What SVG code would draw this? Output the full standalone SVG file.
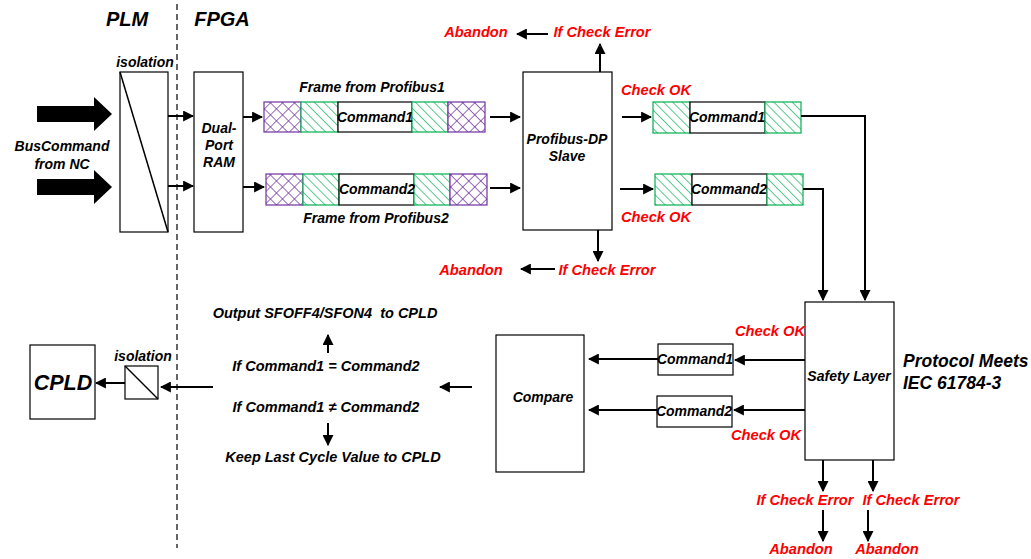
<svg xmlns="http://www.w3.org/2000/svg" width="1031" height="559" viewBox="0 0 1031 559">
<style>
text{font-family:"Liberation Sans",Arial,sans-serif;font-weight:bold;font-style:italic;fill:#000}
.t{font-size:14px}
.d{font-size:14.5px;white-space:pre}
.h{font-size:20px}
.r{fill:#ff0000;font-size:14.7px}
.m{text-anchor:middle}
.box{fill:#fff;stroke:#000;stroke-width:1.2}
.ln{fill:none;stroke:#000;stroke-width:2}
.pu{fill:url(#cross);stroke:#7030a0;stroke-width:1.2}
.gr{fill:url(#diag);stroke:#00b050;stroke-width:1.2}
</style>
<defs>
<marker id="ah" viewBox="0 0 10 10" refX="9" refY="5" markerWidth="5.5" markerHeight="5.5" orient="auto" markerUnits="strokeWidth">
<path d="M0,0 L10,5 L0,10 z" fill="#000"/>
</marker>
<pattern id="cross" patternUnits="userSpaceOnUse" width="8.5" height="8.5" patternTransform="rotate(45)">
<rect width="8.5" height="8.5" fill="#fff"/>
<path d="M0,0 V8.5 M0,0 H8.5" stroke="#7030a0" stroke-width="1.4"/>
</pattern>
<pattern id="diag" patternUnits="userSpaceOnUse" width="6.5" height="6.5" patternTransform="rotate(-45)">
<rect width="6.5" height="6.5" fill="#fff"/>
<path d="M0,0 V6.5" stroke="#00b050" stroke-width="1.3"/>
</pattern>
</defs>

<g id="dividers">
<line x1="177" y1="4" x2="177" y2="548" stroke="#000" stroke-width="1.2" stroke-dasharray="6,4"/>
<text class="h m" x="127" y="26">PLM</text>
<text class="h m" x="222" y="26">FPGA</text>
</g>

<g id="bus-input">
<path d="M37,106 H94 V97 L112,114 L94,131 V122 H37 z" fill="#000"/>
<path d="M37,179 H94 V170 L112,187 L94,204 V195 H37 z" fill="#000"/>
<text class="t m" x="62" y="151">BusCommand</text>
<text class="t m" x="62" y="169">from NC</text>
</g>

<g id="isolation1">
<rect class="box" x="120" y="72" width="48" height="160"/>
<line x1="120" y1="72" x2="168" y2="232" stroke="#000" stroke-width="1.5"/>
<text class="t m" x="145" y="67">isolation</text>
</g>

<g id="dpram">
<rect class="box" x="194" y="72" width="49" height="160"/>
<text class="t m" x="219" y="133">Dual-</text>
<text class="t m" x="219" y="150">Port</text>
<text class="t m" x="219" y="167">RAM</text>
</g>

<g id="frame1">
<rect class="pu" x="264" y="102" width="37" height="30"/>
<rect class="gr" x="301" y="102" width="37" height="30"/>
<rect class="box" x="338" y="102" width="74" height="30"/>
<rect class="gr" x="412" y="102" width="36" height="30"/>
<rect class="pu" x="448" y="102" width="37" height="30"/>
<text class="t m" x="375" y="122">Command1</text>
<text class="t m" x="372" y="92">Frame from Profibus1</text>
</g>

<g id="frame2">
<rect class="pu" x="266" y="174" width="37" height="31"/>
<rect class="gr" x="303" y="174" width="36" height="31"/>
<rect class="box" x="339" y="174" width="75" height="31"/>
<rect class="gr" x="414" y="174" width="36" height="31"/>
<rect class="pu" x="450" y="174" width="37" height="31"/>
<text class="t m" x="377" y="194">Command2</text>
<text class="t m" x="376" y="223">Frame from Profibus2</text>
</g>

<g id="profibus-slave">
<rect class="box" x="523" y="72" width="89" height="158"/>
<text class="t m" x="567" y="144">Profibus-DP</text>
<text class="t m" x="567" y="161">Slave</text>
</g>

<g id="cmd1-ok">
<rect class="gr" x="653" y="102" width="37" height="31"/>
<rect class="box" x="690" y="102" width="75" height="31"/>
<rect class="gr" x="765" y="102" width="36" height="31"/>
<text class="t m" x="727" y="122">Command1</text>
</g>

<g id="cmd2-ok">
<rect class="gr" x="655" y="174" width="37" height="31"/>
<rect class="box" x="692" y="174" width="75" height="31"/>
<rect class="gr" x="767" y="174" width="36" height="31"/>
<text class="t m" x="729" y="194">Command2</text>
</g>

<g id="safety-layer">
<rect class="box" x="805" y="302" width="89" height="158"/>
<text class="t m" x="849" y="381">Safety Layer</text>
<text x="903" y="367" style="font-size:17.5px">Protocol Meets</text>
<text x="903" y="389" style="font-size:17.5px">IEC 61784-3</text>
</g>

<g id="cmd1-small">
<rect class="box" x="658" y="344" width="75" height="31"/>
<text class="t m" x="695" y="364">Command1</text>
</g>
<g id="cmd2-small">
<rect class="box" x="657" y="396" width="75" height="31"/>
<text class="t m" x="694" y="416">Command2</text>
</g>

<g id="compare">
<rect class="box" x="496" y="335" width="88" height="137"/>
<text class="t m" x="543" y="402">Compare</text>
</g>

<g id="decision">
<text class="d m" x="325" y="318" xml:space="preserve">Output SFOFF4/SFON4  to CPLD</text>
<text class="d m" x="326" y="371">If Command1 = Command2</text>
<text class="d m" x="326" y="412">If Command1 ≠ Command2</text>
<text class="d m" x="333" y="462">Keep Last Cycle Value to CPLD</text>
</g>

<g id="isolation2">
<rect class="box" x="125" y="366" width="33" height="33"/>
<line x1="125" y1="366" x2="158" y2="399" stroke="#000" stroke-width="1.5"/>
<text class="t m" x="143" y="361">isolation</text>
</g>

<g id="cpld">
<rect class="box" x="30" y="345" width="65" height="74"/>
<text class="m" x="63" y="390" style="font-size:21.5px">CPLD</text>
</g>

<g id="labels-red">
<text class="r m" x="476" y="37">Abandon</text>
<text class="r m" x="602" y="37">If Check Error</text>
<text class="r m" x="471" y="275">Abandon</text>
<text class="r m" x="607" y="275">If Check Error</text>
<text class="r m" x="656" y="95">Check OK</text>
<text class="r m" x="656" y="222">Check OK</text>
<text class="r m" x="770" y="336">Check OK</text>
<text class="r m" x="766" y="440">Check OK</text>
<text class="r m" x="805" y="505">If Check Error</text>
<text class="r m" x="911" y="505">If Check Error</text>
<text class="r m" x="801" y="554">Abandon</text>
<text class="r m" x="887" y="554">Abandon</text>
</g>

<g id="connectors">
<line class="ln" x1="168" y1="116" x2="193" y2="116" marker-end="url(#ah)"/>
<line class="ln" x1="168" y1="186" x2="193" y2="186" marker-end="url(#ah)"/>
<line class="ln" x1="243" y1="117" x2="262" y2="117" marker-end="url(#ah)"/>
<line class="ln" x1="243" y1="187" x2="264" y2="187" marker-end="url(#ah)"/>
<line class="ln" x1="490" y1="117" x2="520" y2="117" marker-end="url(#ah)"/>
<line class="ln" x1="490" y1="188" x2="520" y2="188" marker-end="url(#ah)"/>
<line class="ln" x1="600" y1="72" x2="600" y2="44" marker-end="url(#ah)"/>
<line class="ln" x1="548" y1="34" x2="517" y2="34" marker-end="url(#ah)"/>
<line class="ln" x1="598" y1="230" x2="598" y2="261" marker-end="url(#ah)"/>
<line class="ln" x1="555" y1="269" x2="521" y2="269" marker-end="url(#ah)"/>
<line class="ln" x1="622" y1="117" x2="651" y2="117" marker-end="url(#ah)"/>
<line class="ln" x1="620" y1="189" x2="653" y2="189" marker-end="url(#ah)"/>
<polyline class="ln" points="801,116 865,116 865,300" marker-end="url(#ah)"/>
<polyline class="ln" points="803,189 823,189 823,300" marker-end="url(#ah)"/>
<line class="ln" x1="805" y1="360" x2="735" y2="360" marker-end="url(#ah)"/>
<line class="ln" x1="658" y1="359" x2="589" y2="359" marker-end="url(#ah)"/>
<line class="ln" x1="805" y1="410" x2="734" y2="410" marker-end="url(#ah)"/>
<line class="ln" x1="657" y1="410" x2="589" y2="410" marker-end="url(#ah)"/>
<line class="ln" x1="472" y1="387" x2="440" y2="387" marker-end="url(#ah)"/>
<line class="ln" x1="328" y1="353" x2="328" y2="335" marker-end="url(#ah)"/>
<line class="ln" x1="328" y1="423" x2="328" y2="445" marker-end="url(#ah)"/>
<line class="ln" x1="213" y1="387" x2="161" y2="387" marker-end="url(#ah)"/>
<line class="ln" x1="125" y1="383" x2="96" y2="383" marker-end="url(#ah)"/>
<line class="ln" x1="823" y1="460" x2="823" y2="491" marker-end="url(#ah)"/>
<line class="ln" x1="873" y1="460" x2="873" y2="491" marker-end="url(#ah)"/>
<line class="ln" x1="823" y1="510" x2="823" y2="541" marker-end="url(#ah)"/>
<line class="ln" x1="868" y1="510" x2="868" y2="541" marker-end="url(#ah)"/>
</g>
</svg>
